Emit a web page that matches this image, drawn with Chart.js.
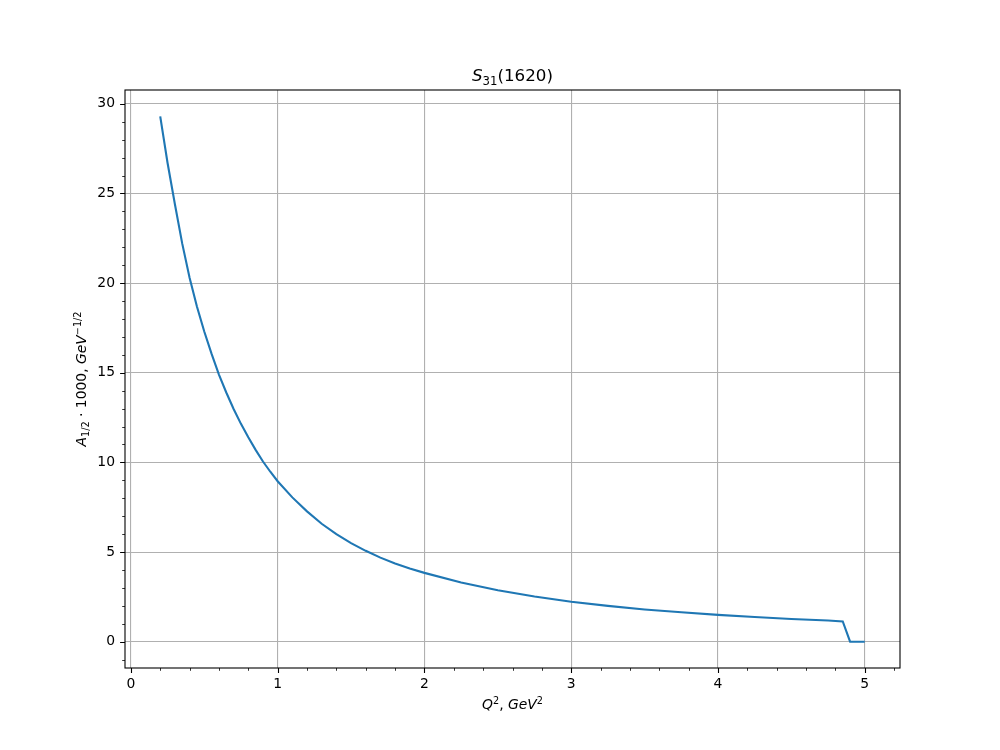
<!DOCTYPE html>
<html>
<head>
<meta charset="utf-8">
<script src="https://cdn.jsdelivr.net/npm/chart.js@4"></script>
<style>
  html, body { margin: 0; padding: 0; background: #ffffff; }
  #wrap { width: 1000px; height: 750px; }
</style>
</head>
<body>
<div id="wrap"><canvas id="c" width="1000" height="750"></canvas></div>
<script>
// ---- data ----
const q2Values = [0.20, 0.25, 0.30, 0.35, 0.40, 0.45, 0.50, 0.55, 0.60, 0.65, 0.70, 0.75, 0.80, 0.85, 0.90, 0.95, 1.00,
                  1.10, 1.20, 1.30, 1.40, 1.50, 1.60, 1.70, 1.80, 1.90, 2.00,
                  2.25, 2.50, 2.75, 3.00, 3.25, 3.50, 3.75, 4.00, 4.25, 4.50, 4.75, 4.85, 4.90, 5.00];
const a12Values = [29.3, 26.7, 24.4, 22.2, 20.3, 18.7, 17.3, 16.05, 14.9, 13.9, 12.98, 12.15, 11.4, 10.7, 10.05, 9.48, 8.95,
                   8.05, 7.27, 6.58, 6.0, 5.5, 5.07, 4.69, 4.36, 4.08, 3.84,
                   3.3, 2.87, 2.52, 2.23, 2.0, 1.8, 1.64, 1.5, 1.38, 1.27, 1.18, 1.13, 0.0, 0.0];
const xTickValues = [0, 1, 2, 3, 4, 5];
const yTickValues = [0, 5, 10, 15, 20, 25, 30];
const xMinorTicks = [0.2, 0.4, 0.6, 0.8, 1.2, 1.4, 1.6, 1.8, 2.2, 2.4, 2.6, 2.8, 3.2, 3.4, 3.6, 3.8, 4.2, 4.4, 4.6, 4.8, 5.2];
const yMinorTicks = [-1, 1, 2, 3, 4, 6, 7, 8, 9, 11, 12, 13, 14, 16, 17, 18, 19, 21, 22, 23, 24, 26, 27, 28, 29];

const FONT = '"DejaVu Sans", sans-serif';

// draw runs of text (mathtext-like); runs: {t, it, sz, dy}
function runsWidth(ctx, runs) {
  let w = 0;
  for (const r of runs) {
    ctx.font = (r.it ? 'italic ' : '') + r.sz + 'px ' + FONT;
    w += ctx.measureText(r.t).width;
  }
  return w;
}
function drawRuns(ctx, runs, x, y) {
  let cx = x;
  for (const r of runs) {
    ctx.font = (r.it ? 'italic ' : '') + r.sz + 'px ' + FONT;
    ctx.fillText(r.t, cx, y + (r.dy || 0));
    cx += ctx.measureText(r.t).width;
  }
}

const decor = {
  id: 'decor',
  afterDraw(chart) {
    const ctx = chart.ctx;
    const ca = chart.chartArea;
    const xs = chart.scales.x, ys = chart.scales.y;
    ctx.save();
    ctx.strokeStyle = '#000000';
    ctx.lineWidth = 1.1;
    // spines
    ctx.strokeRect(ca.left, ca.top, ca.right - ca.left, ca.bottom - ca.top);
    // ticks
    ctx.beginPath();
    for (const v of xTickValues) {
      const px = Math.round(xs.getPixelForValue(v)) + 0.5;
      ctx.moveTo(px, ca.bottom); ctx.lineTo(px, ca.bottom + 4.9);
    }
    for (const v of yTickValues) {
      const py = Math.round(ys.getPixelForValue(v)) + 0.5;
      ctx.moveTo(ca.left, py); ctx.lineTo(ca.left - 4.9, py);
    }
    ctx.stroke();
    ctx.lineWidth = 0.8;
    ctx.beginPath();
    for (const v of xMinorTicks) {
      const px = Math.round(xs.getPixelForValue(v)) + 0.5;
      ctx.moveTo(px, ca.bottom); ctx.lineTo(px, ca.bottom + 2.8);
    }
    for (const v of yMinorTicks) {
      const py = Math.round(ys.getPixelForValue(v)) + 0.5;
      ctx.moveTo(ca.left, py); ctx.lineTo(ca.left - 2.8, py);
    }
    ctx.stroke();

    ctx.fillStyle = '#000000';
    ctx.textBaseline = 'alphabetic';
    ctx.textAlign = 'left';
    // title  S_31(1620)
    const cx = (ca.left + ca.right) / 2;
    const title = [
      {t: 'S', it: true, sz: 16.7},
      {t: '31', it: false, sz: 11.7, dy: 3.5},
      {t: '(1620)', it: false, sz: 16.7}
    ];
    drawRuns(ctx, title, cx - runsWidth(ctx, title) / 2, 81);

    // x label  Q^2, GeV^2
    const xl = [
      {t: 'Q', it: true, sz: 13.9},
      {t: '2', it: false, sz: 9.7, dy: -5.5},
      {t: ', ', it: false, sz: 13.9},
      {t: 'GeV', it: true, sz: 13.9},
      {t: '2', it: false, sz: 9.7, dy: -5.5}
    ];
    drawRuns(ctx, xl, cx - runsWidth(ctx, xl) / 2, 709);

    // y label  A_{1/2} · 1000, GeV^{-1/2}
    const yl = [
      {t: 'A', it: true, sz: 13.9},
      {t: '1/2', it: false, sz: 9.7, dy: 3},
      {t: ' \u00b7 1000, ', it: false, sz: 13.9},
      {t: 'GeV', it: true, sz: 13.9},
      {t: '\u22121/2', it: false, sz: 9.7, dy: -5.5}
    ];
    const cy = (ca.top + ca.bottom) / 2;
    ctx.translate(86, cy);
    ctx.rotate(-Math.PI / 2);
    drawRuns(ctx, yl, -runsWidth(ctx, yl) / 2, 0);
    ctx.restore();
  }
};

const points = q2Values.map((q, i) => ({x: q, y: a12Values[i]}));

new Chart(document.getElementById('c'), {
  type: 'line',
  data: {
    datasets: [{
      data: points,
      borderColor: '#1f77b4',
      borderWidth: 2.1,
      pointRadius: 0,
      tension: 0,
      fill: false
    }]
  },
  options: {
    responsive: false,
    animation: false,
    devicePixelRatio: 1,
    layout: { padding: { left: 0, top: 90, right: 100, bottom: 0 } },
    plugins: { legend: { display: false }, title: { display: false }, tooltip: { enabled: false } },
    scales: {
      x: {
        type: 'linear',
        min: -0.04, max: 5.24,
        afterBuildTicks: s => { s.ticks = xTickValues.map(v => ({value: v})); },
        afterFit: s => { s.height = 82; },
        ticks: { color: '#000', font: { family: FONT, size: 13.9 }, padding: 8, maxRotation: 0, autoSkip: false,
                 callback: v => String(v) },
        grid: { color: '#b0b0b0', lineWidth: 1.1, drawTicks: false },
        border: { display: false }
      },
      y: {
        type: 'linear',
        min: -1.465, max: 30.77,
        afterBuildTicks: s => { s.ticks = yTickValues.map(v => ({value: v})); },
        afterFit: s => { s.width = 125; },
        ticks: { color: '#000', font: { family: FONT, size: 13.9 }, padding: 10, autoSkip: false,
                 callback: v => String(v) },
        grid: { color: '#b0b0b0', lineWidth: 1.1, drawTicks: false },
        border: { display: false }
      }
    }
  },
  plugins: [decor]
});
</script>
</body>
</html>
